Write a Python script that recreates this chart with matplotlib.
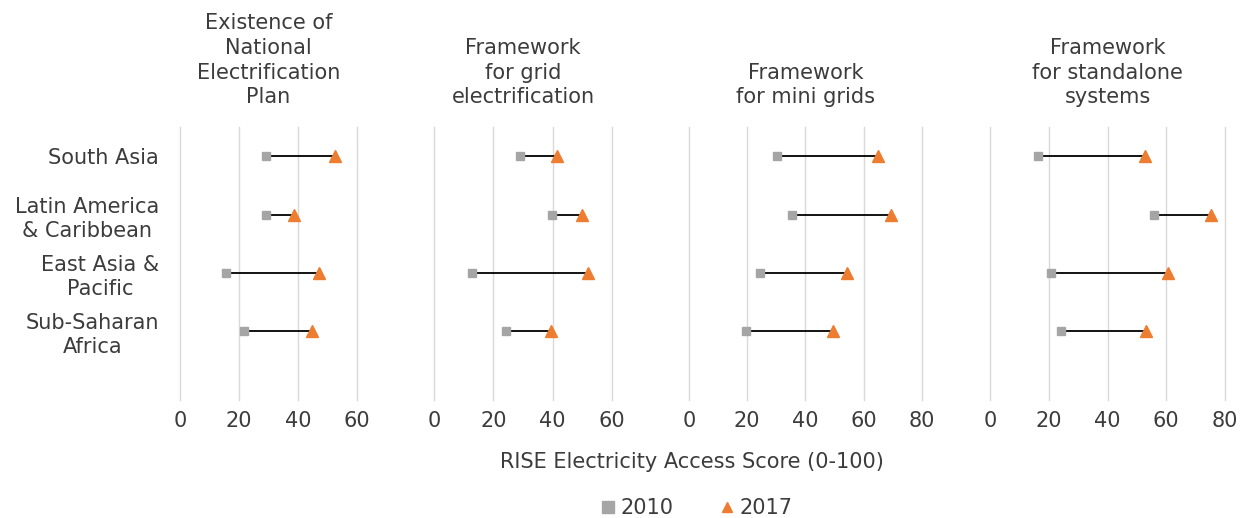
import matplotlib
matplotlib.use("Agg")
import matplotlib.pyplot as plt
from matplotlib.lines import Line2D

plt.rcParams["font.family"] = ["DejaVu Sans"]

# ---- data ----
regions = ["South Asia", "Latin America\n& Caribbean", "East Asia &\nPacific", "Sub-Saharan\nAfrica"]
panel_titles = [
    "Existence of\nNational\nElectrification\nPlan",
    "Framework\nfor grid\nelectrification",
    "Framework\nfor mini grids",
    "Framework\nfor standalone\nsystems",
]
score_2010 = [
    [29.0, 29.0, 15.6, 21.7],
    [29.1, 39.8, 12.9, 24.3],
    [30.2, 35.4, 24.4, 19.6],
    [16.5, 55.9, 20.6, 24.0],
]
score_2017 = [
    [52.7, 38.8, 47.0, 44.6],
    [41.6, 50.0, 52.0, 39.6],
    [64.8, 69.3, 54.1, 49.4],
    [52.7, 75.4, 60.5, 53.2],
]
x_max = [60, 60, 80, 80]

W, H = 1257, 518
fig = plt.figure(figsize=(W / 100, H / 100), dpi=100)

# axes pixel extents (left, right) of the 0..max range
ext = [(180, 357), (434, 612), (689, 922), (990, 1225)]
top, bot = 127, 400

text_col = "#3c3c3c"
gray = "#a5a5a5"
orange = "#ed7d31"
fs = 15

for i in range(4):
    l, r = ext[i]
    ax = fig.add_axes([l / W, 1 - bot / H, (r - l) / W, (bot - top) / H])
    ys = range(len(regions))
    for y, a, b in zip(ys, score_2010[i], score_2017[i]):
        ax.plot([a, b], [y, y], color="black", lw=1.3, zorder=2)
    ax.plot(score_2010[i], list(ys), "s", color=gray, ms=6, zorder=3, lw=0)
    ax.plot(score_2017[i], list(ys), "^", color=orange, ms=8.5, zorder=3, lw=0)

    ax.set_xlim(0, x_max[i])
    ax.set_xticks(range(0, x_max[i] + 1, 20))
    ax.set_ylim(4.18, -0.5)
    ax.grid(axis="x", color="#d9d9d9", lw=1)
    for gl in ax.get_xgridlines():
        gl.set_clip_on(False)
    ax.set_axisbelow(True)
    for s in ax.spines.values():
        s.set_visible(False)
    ax.tick_params(axis="x", length=0, labelsize=fs, labelcolor=text_col, pad=8)
    if i == 0:
        ax.set_yticks(list(ys))
        ax.set_yticklabels(regions, fontsize=fs, color=text_col, multialignment="center",
                           linespacing=1.25)
        ax.tick_params(axis="y", length=0, pad=15)
    else:
        ax.set_yticks([])
    ax.set_title(panel_titles[i], fontsize=fs, color=text_col, pad=17, linespacing=1.3)

fig.text(692 / W, 1 - 462 / H, "RISE Electricity Access Score (0-100)",
         ha="center", va="center", fontsize=fs, color=text_col)

handles = [
    Line2D([], [], marker="s", color=gray, ls="none", ms=8),
    Line2D([], [], marker="^", color=orange, ls="none", ms=7),
]
fig.legend(handles, ["2010", "2017"], loc="center", bbox_to_anchor=(694 / W, 1 - 508 / H),
           ncol=2, frameon=False, fontsize=fs, handletextpad=0.0, columnspacing=2.0,
           handlelength=1.2, labelcolor=text_col)

fig.savefig("out.png", dpi=100)
